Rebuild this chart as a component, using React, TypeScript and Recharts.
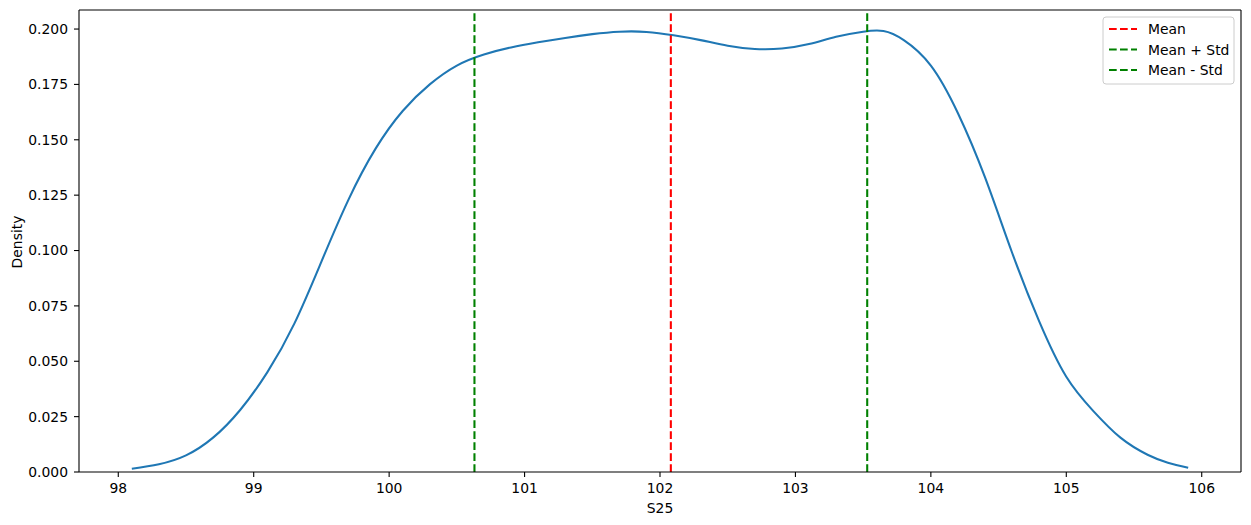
import { LineChart, Line, XAxis, YAxis, ReferenceLine } from "recharts";

// KDE of S25
const s25 = [
  98.1, 98.3, 98.5, 98.7, 98.9, 99.1, 99.3, 99.5, 99.7, 99.9,
  100.1, 100.3, 100.5, 100.7, 100.9, 101.1, 101.3, 101.5, 101.7, 101.9,
  102.1, 102.3, 102.5, 102.7, 102.9, 103.1, 103.3, 103.5, 103.65, 103.8,
  104.0, 104.2, 104.4, 104.6, 104.8, 105.0, 105.2, 105.4, 105.6, 105.75, 105.9,
];
const density = [
  0.0015, 0.0035, 0.0075, 0.0155, 0.028, 0.045, 0.067, 0.095, 0.123, 0.146,
  0.163, 0.175, 0.1835, 0.1885, 0.1917, 0.194, 0.196, 0.1977, 0.1988, 0.1987,
  0.1972, 0.195, 0.1925, 0.191, 0.1912, 0.1932, 0.1965, 0.1988, 0.1991, 0.195,
  0.1835, 0.162, 0.133, 0.099, 0.068, 0.043, 0.0275, 0.0155, 0.0078, 0.0042, 0.0019,
];

const xTicks = [98, 99, 100, 101, 102, 103, 104, 105, 106];
const yTicks = [0, 0.025, 0.05, 0.075, 0.1, 0.125, 0.15, 0.175, 0.2];

const MEAN = 102.08;
const STD = 1.45;

const legendLabels = ["Mean", "Mean + Std", "Mean - Std"];
const legendColors = ["#ff0000", "#008000", "#008000"];

const data = s25.map((x, i) => ({ x, y: density[i] }));

const X_DOMAIN: [number, number] = [97.71, 106.29];
const Y_DOMAIN: [number, number] = [0, 0.2086];

const FONT = "'DejaVu Sans', sans-serif";
const FS = 13.9;
const DASH = "7.7 3.3";

const YLabel = () => (
  <text x={21.5} y={242} transform="rotate(-90 21.5 242)" textAnchor="middle" fontSize={FS} fontFamily={FONT} fill="#000">
    Density
  </text>
);

const XLabel = () => (
  <text x={660} y={512.5} textAnchor="middle" fontSize={FS} fontFamily={FONT} fill="#000">
    S25
  </text>
);

const KdeLegend = () => (
  <svg
    width={133}
    height={69}
    style={{ position: "absolute", left: 1102, top: 16, overflow: "visible" }}
  >
    <rect x={1} y={1} width={131} height={67} rx={3} fill="rgba(255,255,255,0.8)" stroke="#cccccc" strokeWidth={1} />
    {legendLabels.map((label, i) => (
      <g key={label}>
        <line
          x1={7}
          x2={35}
          y1={13 + i * 20.5}
          y2={13 + i * 20.5}
          stroke={legendColors[i]}
          strokeWidth={2.08}
          strokeDasharray={DASH}
        />
        <text x={46} y={18 + i * 20.5} fontSize={FS} fontFamily={FONT} fill="#000">
          {label}
        </text>
      </g>
    ))}
  </svg>
);

export default function App() {
  return (
    <div style={{ position: "absolute", left: 0, top: 0, width: 1251, height: 525, background: "#fff" }}>
      <LineChart
        width={1251}
        height={525}
        data={data}
        margin={{ top: 10, right: 10, left: 0, bottom: 0 }}
        style={{ fontFamily: FONT }}
      >
        <XAxis
          dataKey="x"
          type="number"
          domain={X_DOMAIN}
          allowDataOverflow
          ticks={xTicks}
          tickSize={5}
          tickMargin={6}
          height={53}
          stroke="#000"
          strokeWidth={1.1}
          tick={{ fill: "#000", fontSize: FS }}
          label={<XLabel />}
        />
        <YAxis
          type="number"
          domain={Y_DOMAIN}
          allowDataOverflow
          ticks={yTicks}
          tickFormatter={(v: number) => v.toFixed(3)}
          tickSize={5}
          tickMargin={6}
          width={79}
          stroke="#000"
          strokeWidth={1.1}
          tick={{ fill: "#000", fontSize: FS }}
          label={<YLabel />}
        />
        {/* top and right spines */}
        <ReferenceLine y={Y_DOMAIN[1]} stroke="#000" strokeWidth={1.1} />
        <ReferenceLine x={X_DOMAIN[1]} stroke="#000" strokeWidth={1.1} />
        <Line
          type="natural"
          dataKey="y"
          stroke="#1f77b4"
          strokeWidth={2.08}
          dot={false}
          activeDot={false}
          isAnimationActive={false}
        />
        <ReferenceLine x={MEAN} stroke={legendColors[0]} strokeWidth={2.08} strokeDasharray={DASH} />
        <ReferenceLine x={MEAN + STD} stroke={legendColors[1]} strokeWidth={2.08} strokeDasharray={DASH} />
        <ReferenceLine x={MEAN - STD} stroke={legendColors[2]} strokeWidth={2.08} strokeDasharray={DASH} />
      </LineChart>
      <KdeLegend />
    </div>
  );
}
